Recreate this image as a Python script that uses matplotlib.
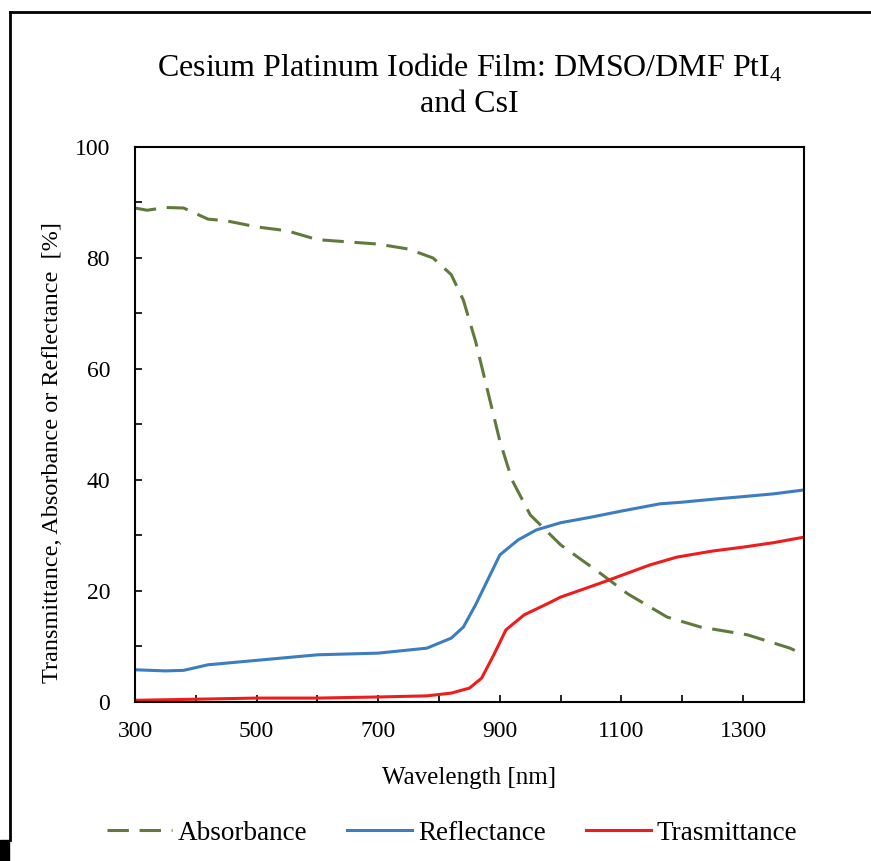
import numpy as np
import matplotlib
matplotlib.use('Agg')
import matplotlib.pyplot as plt
from matplotlib.lines import Line2D
from matplotlib.patches import Rectangle

plt.rcParams['font.family'] = ['Liberation Serif', 'DejaVu Serif']
plt.rcParams['mathtext.fontset'] = 'custom'
plt.rcParams['mathtext.rm'] = 'Liberation Serif'

# absorbance (dashed)
abs_wl = [300, 320, 350, 380, 420, 450, 500, 550, 600, 650, 700, 750, 790, 820,
          840, 860, 880, 900, 920, 950, 1000, 1065, 1110, 1175, 1230, 1307, 1377, 1400]
abs_val = [89.0, 88.6, 89.1, 89.0, 87.0, 86.7, 85.6, 84.9, 83.3, 82.9, 82.5, 81.6, 80.0, 77.0,
           72.4, 65.0, 56.0, 47.0, 40.0, 33.7, 28.3, 23.2, 19.5, 15.3, 13.5, 12.1, 9.7, 8.5]

# reflectance
ref_wl = [300, 350, 380, 420, 500, 600, 700, 780, 820, 840, 860, 880, 900, 930, 960,
          1000, 1050, 1100, 1163, 1200, 1257, 1300, 1350, 1400]
ref_val = [5.8, 5.6, 5.7, 6.7, 7.5, 8.5, 8.8, 9.7, 11.5, 13.5, 17.5, 22.0, 26.5, 29.2, 31.0,
           32.3, 33.3, 34.4, 35.7, 36.0, 36.6, 37.0, 37.5, 38.2]

# transmittance
tra_wl = [300, 400, 500, 600, 700, 780, 820, 850, 870, 890, 910, 940, 980, 1000,
          1065, 1147, 1191, 1250, 1300, 1350, 1400]
tra_val = [0.3, 0.5, 0.7, 0.7, 0.9, 1.1, 1.6, 2.5, 4.3, 8.5, 13.0, 15.7, 17.8, 18.9,
           21.4, 24.7, 26.1, 27.2, 27.9, 28.7, 29.7]

fig = plt.figure(figsize=(8.71, 8.61), dpi=100)
ax = fig.add_axes([0.155, 0.1847, 0.768, 0.6446])

ax.plot(abs_wl, abs_val, color='#5f7a3c', lw=2.2, dashes=(7, 3.5), label='Absorbance')
ax.plot(ref_wl, ref_val, color='#3b7dc0', lw=2.2, label='Reflectance')
ax.plot(tra_wl, tra_val, color='#ee1c1c', lw=2.2, label='Trasmittance')

ax.set_xlim(300, 1400)
ax.set_ylim(0, 100)
ax.set_xticks(np.arange(300, 1400, 200))
ax.set_xticks(np.arange(300, 1400, 100), minor=True)
ax.set_yticks(np.arange(0, 101, 20))
ax.set_yticks(np.arange(0, 101, 10), minor=True)
ax.tick_params(which='both', direction='in', length=5, width=1.2, labelsize=17)
ax.tick_params(axis='x', pad=14)
ax.tick_params(axis='y', pad=18)
for s in ax.spines.values():
    s.set_linewidth(1.5)

ax.set_xlabel('Wavelength [nm]', fontsize=18, labelpad=18)
ax.set_ylabel('Transmittance, Absorbance or Reflectance  [%]', fontsize=17.5)
ax.yaxis.set_label_coords(-0.108, 0.45)
ax.set_title('Cesium Platinum Iodide Film: DMSO/DMF PtI$_\\mathrm{4}$\nand CsI',
             fontsize=23, pad=25, linespacing=1.3)

ax.legend(loc='upper center', bbox_to_anchor=(0.474, -0.17), ncol=3, frameon=False,
          fontsize=19.5, handlelength=2.4, columnspacing=1.5, handletextpad=0.2)

# outer frame
fig.add_artist(Line2D([10 / 871, 1], [1 - 12 / 861, 1 - 12 / 861], color='black', lw=2,
                      transform=fig.transFigure))
fig.add_artist(Line2D([10 / 871, 10 / 871], [1 - 12 / 861, 1 - 840 / 861], color='black', lw=2,
                      transform=fig.transFigure))
fig.add_artist(Rectangle((0, 0), 9 / 871, 21 / 861, color='black', transform=fig.transFigure))

fig.savefig('out.png', dpi=100)
